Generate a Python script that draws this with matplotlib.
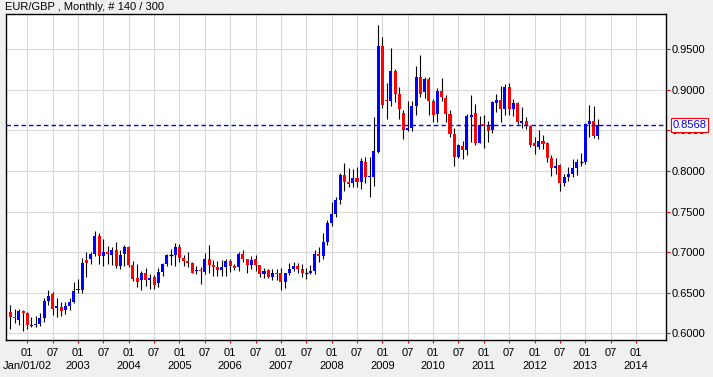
import matplotlib
matplotlib.use("Agg")
import matplotlib.pyplot as plt
import numpy as np

plt.rcParams['font.family'] = ['Liberation Sans', 'DejaVu Sans']

# Monthly EUR/GBP candles, Sep 2001 .. Apr 2013
start_year, start_month = 2001, 9
opens = [0.6263,0.6193,0.6169,0.6275,0.6247,0.6095,0.6099,0.6115,0.6193,0.6399,
         0.6485,0.6316,0.6325,0.6288,0.6337,0.6390,0.6530,0.6538,0.6904,0.6921,
         0.6978,0.7200,0.6958,0.7003,0.6970,0.7028,0.6834,0.6982,0.7065,0.6843,
         0.6682,0.6662,0.6744,0.6662,0.6695,0.6625,0.6752,0.6855,0.6962,0.6962,
         0.7065,0.6933,0.6896,0.6867,0.6765,0.6773,0.6756,0.6912,0.6838,0.6814,
         0.6785,0.6822,0.6888,0.6826,0.6814,0.6978,0.6912,0.6847,0.6912,0.6838,
         0.6732,0.6777,0.6695,0.6744,0.6740,0.6633,0.6748,0.6797,0.6830,0.6793,
         0.6740,0.6744,0.6764,0.6978,0.6958,0.7126,0.7365,0.7471,0.7644,0.7952,
         0.7870,0.7854,0.7915,0.7870,0.8113,0.7928,0.7932,0.8240,0.9543,0.8869,
         0.8857,0.9235,0.8951,0.8717,0.8507,0.8536,0.8807,0.9161,0.8972,0.9132,
         0.8865,0.8700,0.8988,0.8898,0.8704,0.8458,0.8178,0.8310,0.8261,0.8667,
         0.8713,0.8351,0.8581,0.8557,0.8503,0.8844,0.8877,0.8766,0.9037,0.8762,
         0.8836,0.8589,0.8614,0.8557,0.8343,0.8293,0.8372,0.8343,0.8166,0.8043,
         0.8076,0.7858,0.7932,0.7961,0.8043,0.8109,0.8109,0.8581,0.8614,0.8433]
highs = [0.6349,0.6296,0.6300,0.6288,0.6259,0.6201,0.6218,0.6251,0.6432,0.6534,
         0.6510,0.6436,0.6386,0.6390,0.6436,0.6633,0.6674,0.6925,0.7007,0.7007,
         0.7262,0.7233,0.7163,0.7077,0.7069,0.7126,0.7028,0.7089,0.7077,0.6896,
         0.6851,0.6769,0.6801,0.6727,0.6719,0.6810,0.6871,0.6978,0.7044,0.7114,
         0.7102,0.6962,0.7003,0.6880,0.6830,0.6822,0.6995,0.7085,0.6900,0.6896,
         0.6904,0.6917,0.6912,0.6851,0.7007,0.7028,0.6921,0.6954,0.6966,0.6838,
         0.6801,0.6793,0.6797,0.6789,0.6801,0.6748,0.6871,0.6875,0.6871,0.6851,
         0.6801,0.6838,0.7028,0.7069,0.7233,0.7397,0.7624,0.7685,0.7973,0.8096,
         0.8043,0.8030,0.8055,0.8158,0.8178,0.8178,0.8667,0.9802,0.9654,0.9083,
         0.9514,0.9255,0.9041,0.8746,0.8865,0.8865,0.9288,0.9424,0.9161,0.9161,
         0.8889,0.9029,0.9144,0.8939,0.8754,0.8528,0.8330,0.8372,0.8700,0.8939,
         0.8828,0.8672,0.8684,0.8618,0.8865,0.8943,0.9050,0.9074,0.9087,0.8885,
         0.8852,0.8783,0.8663,0.8565,0.8417,0.8507,0.8446,0.8363,0.8199,0.8166,
         0.8084,0.7965,0.8055,0.8154,0.8150,0.8219,0.8589,0.8815,0.8795,0.8639]
lows = [0.6058,0.6132,0.6099,0.6029,0.6058,0.6074,0.6078,0.6095,0.6140,0.6353,
        0.6230,0.6206,0.6214,0.6238,0.6292,0.6370,0.6501,0.6501,0.6695,0.6851,
        0.6958,0.6851,0.6834,0.6855,0.6847,0.6810,0.6793,0.6826,0.6814,0.6649,
        0.6575,0.6538,0.6584,0.6547,0.6543,0.6567,0.6711,0.6834,0.6838,0.6834,
        0.6880,0.6834,0.6822,0.6740,0.6727,0.6604,0.6732,0.6744,0.6707,0.6703,
        0.6707,0.6711,0.6756,0.6781,0.6764,0.6880,0.6748,0.6797,0.6773,0.6699,
        0.6682,0.6682,0.6658,0.6658,0.6530,0.6555,0.6715,0.6773,0.6748,0.6699,
        0.6666,0.6732,0.6732,0.6880,0.6921,0.7085,0.7323,0.7439,0.7591,0.7759,
        0.7808,0.7808,0.7800,0.7784,0.7854,0.7685,0.7821,0.8219,0.8774,0.8643,
        0.8795,0.8848,0.8643,0.8396,0.8495,0.8487,0.8692,0.8906,0.8898,0.8684,
        0.8598,0.8602,0.8857,0.8602,0.8413,0.8067,0.8166,0.8145,0.8199,0.8363,
        0.8322,0.8343,0.8281,0.8355,0.8474,0.8733,0.8610,0.8692,0.8692,0.8680,
        0.8581,0.8524,0.8520,0.8293,0.8211,0.8277,0.8273,0.8117,0.7944,0.7961,
        0.7759,0.7817,0.7878,0.7924,0.7952,0.8063,0.8084,0.8425,0.8405,0.8400]
closes = [0.6206,0.6185,0.6275,0.6255,0.6099,0.6107,0.6115,0.6189,0.6399,0.6460,
          0.6304,0.6337,0.6279,0.6337,0.6386,0.6522,0.6538,0.6867,0.6871,0.6978,
          0.7200,0.6958,0.7003,0.6982,0.7028,0.6834,0.6966,0.7065,0.6843,0.6670,
          0.6637,0.6744,0.6662,0.6682,0.6600,0.6752,0.6855,0.6962,0.6962,0.7065,
          0.6933,0.6896,0.6867,0.6748,0.6773,0.6765,0.6912,0.6847,0.6818,0.6785,
          0.6814,0.6888,0.6834,0.6806,0.6978,0.6921,0.6847,0.6904,0.6847,0.6732,
          0.6769,0.6695,0.6740,0.6736,0.6633,0.6740,0.6797,0.6830,0.6793,0.6748,
          0.6740,0.6764,0.6978,0.6958,0.7126,0.7356,0.7471,0.7644,0.7952,0.7870,
          0.7845,0.7915,0.7870,0.8125,0.7924,0.7936,0.8248,0.9543,0.8815,0.8857,
          0.9235,0.8951,0.8758,0.8511,0.8532,0.8807,0.9161,0.8951,0.9132,0.8865,
          0.8684,0.8988,0.8906,0.8704,0.8462,0.8178,0.8322,0.8261,0.8672,0.8692,
          0.8351,0.8569,0.8561,0.8495,0.8848,0.8869,0.8766,0.9037,0.8762,0.8836,
          0.8598,0.8614,0.8561,0.8322,0.8302,0.8372,0.8335,0.8166,0.8043,0.8067,
          0.7858,0.7932,0.7961,0.8043,0.8117,0.8109,0.8581,0.8614,0.8433,0.8568]

last_price = 0.8568
y_ticks = [0.60, 0.65, 0.70, 0.75, 0.80, 0.85, 0.90, 0.95]
first_tick_year = 2002
last_tick_year = 2014
title = "EUR/GBP , Monthly, # 140 / 300"

W, H = 713, 377
fig = plt.figure(figsize=(W / 100, H / 100), dpi=100, facecolor='#f0f0f0')
ax = fig.add_axes([5.7 / W, (H - 340) / H, (666 - 5.7) / W, (340 - 14) / H])
ax.set_facecolor('white')

n = len(opens)
x = np.arange(n)
o = np.array(opens); h = np.array(highs); l = np.array(lows); c = np.array(closes)

# wicks
ax.vlines(x, l, h, color='black', linewidth=0.8, zorder=2)

bw = 0.72
minh = 0.0012
for xi, oi, ci in zip(x, o, c):
    if oi == ci:
        ax.hlines(oi, xi - bw / 2, xi + bw / 2, color='black', linewidth=1.0, zorder=3)
        continue
    col = '#0000ff' if ci > oi else '#ff0000'
    lo, hi = min(oi, ci), max(oi, ci)
    if hi - lo < minh:
        mid = (hi + lo) / 2
        lo, hi = mid - minh / 2, mid + minh / 2
    ax.bar(xi, hi - lo, bottom=lo, width=bw, color=col, linewidth=0, zorder=3)

# x axis: month index relative to start
def month_index(year, month):
    return (year - start_year) * 12 + (month - start_month)

xticks, xlabels = [], []
for yr in range(first_tick_year, last_tick_year + 1):
    xticks.append(month_index(yr, 1)); xlabels.append('01')
    if yr < last_tick_year:
        xticks.append(month_index(yr, 7)); xlabels.append('07')

ax.set_xlim(-1.1, 155.1)
ax.set_ylim(0.5917, 0.9935)
ax.set_xticks(xticks)
ax.set_xticklabels(xlabels, fontsize=8)
ax.set_yticks(y_ticks)
ax.set_yticklabels([f"{v:.4f}" for v in y_ticks], fontsize=8)
ax.yaxis.tick_right()
ax.tick_params(axis='x', direction='out', length=2.5, width=0.8, color='red', pad=3)
ax.tick_params(axis='y', direction='out', length=3, width=0.8, color='red', pad=1.2)
ax.grid(True, color='#d9d9d9', linewidth=0.8, zorder=0)
ax.set_axisbelow(True)
for sp in ax.spines.values():
    sp.set_color('black')
    sp.set_linewidth(1.0)

for yr in range(first_tick_year, last_tick_year + 1):
    lab = 'Jan/01/02' if yr == first_tick_year else str(yr)
    ax.annotate(lab, xy=(month_index(yr, 1), 0), xycoords=('data', 'axes fraction'),
                xytext=(0, -18.7), textcoords='offset points', ha='center', va='center',
                fontsize=8, annotation_clip=False)

# last price line and label
ax.axhline(last_price, color='#0000ff', linewidth=1.0, linestyle=(0, (3.2, 2.2)), zorder=4)
ax.annotate(f"{last_price:.4f}", xy=(1, last_price), xycoords=('axes fraction', 'data'),
            xytext=(4.6, 0), textcoords='offset points', ha='left', va='center',
            fontsize=8, color='#0000ff', annotation_clip=False,
            bbox=dict(boxstyle='square,pad=0.15', fc='white', ec='red', lw=0.8), zorder=10)

fig.text(5 / W, 1 - 7.5 / H, title, ha='left', va='center', fontsize=8)

fig.savefig('out.png', dpi=100, facecolor=fig.get_facecolor())
